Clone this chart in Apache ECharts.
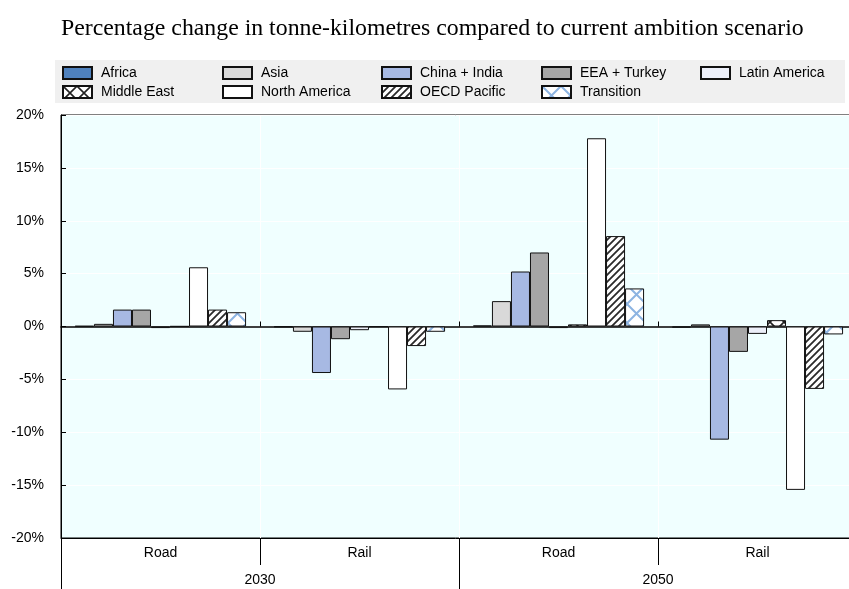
<!DOCTYPE html>
<html>
<head>
<meta charset="utf-8">
<script src="https://cdn.jsdelivr.net/npm/echarts@6/dist/echarts.min.js"></script>
<style>
html,body{margin:0;padding:0;background:#fff;}
#chart{width:849px;height:589px;}
</style>
</head>
<body>
<div id="chart"></div>
<script>
// ---- data ----
const titleText = 'Percentage change in tonne-kilometres compared to current ambition scenario';
const modes = ['Road', 'Rail', 'Road', 'Rail'];
const years = ['2030', '2050'];
const yTicks = { min: -20, max: 20, interval: 5 };
const seriesNames = ['Africa', 'Asia', 'China + India', 'EEA + Turkey', 'Latin America',
                     'Middle East', 'North America', 'OECD Pacific', 'Transition'];
// order: 2030 Road, 2030 Rail, 2050 Road, 2050 Rail (values in %)
const africa       = [0.05, -0.05, 0.1, -0.1];
const asia         = [0.25, -0.5, 2.4, 0.2];
const chinaIndia   = [1.6, -4.4, 5.2, -10.7];
const eeaTurkey    = [1.6, -1.2, 7.0, -2.4];
const latinAmerica = [-0.15, -0.35, -0.15, -0.7];
const middleEast   = [0.02, 0.0, 0.2, 0.6];
const northAmerica = [5.6, -5.95, 17.8, -15.45];
const oecdPacific  = [1.6, -1.85, 8.55, -5.9];
const transition   = [1.35, -0.5, 3.6, -0.75];
const seriesData = [africa, asia, chinaIndia, eeaTurkey, latinAmerica, middleEast, northAmerica, oecdPacific, transition];

// ---- styles ----
function makePattern(size, draw) {
  const c = document.createElement('canvas');
  c.width = size; c.height = size;
  const ctx = c.getContext('2d');
  ctx.fillStyle = '#ffffff';
  ctx.fillRect(0, 0, size, size);
  draw(ctx, size);
  return { image: c, repeat: 'repeat' };
}
const stripePattern = makePattern(7, (ctx, s) => {
  ctx.strokeStyle = '#2a2a2a'; ctx.lineWidth = 1.8;
  ctx.beginPath();
  ctx.moveTo(-1, s + 1); ctx.lineTo(s + 1, -1);
  ctx.moveTo(-1, 1); ctx.lineTo(1, -1);
  ctx.moveTo(s - 1, s + 1); ctx.lineTo(s + 1, s - 1);
  ctx.stroke();
});
function crossPattern(size, color, width) {
  return makePattern(size, (ctx, s) => {
    ctx.strokeStyle = color; ctx.lineWidth = width;
    ctx.beginPath();
    ctx.moveTo(0, 0); ctx.lineTo(s, s);
    ctx.moveTo(s, 0); ctx.lineTo(0, s);
    ctx.stroke();
  });
}
const colors = ['#4F81BD', '#D9D9D9', '#A7B9E3', '#A6A6A6', '#ECEFF9',
                crossPattern(14, '#222222', 1.6), '#FFFFFF', stripePattern, crossPattern(19, '#8DB4E2', 2)];

const sansFont = '"Liberation Sans Narrow", "Arial Narrow", "Liberation Sans", Arial, sans-serif';

const legendCols = [62, 222, 381, 541, 700];
const legendRows = [66, 85];
const legends = seriesNames.map((n, i) => ({
  data: [{ name: n, icon: 'rect' }],
  left: legendCols[i % 5],
  top: legendRows[Math.floor(i / 5)],
  itemWidth: 29, itemHeight: 12,
  padding: 0,
  selectedMode: false,
  textStyle: { fontFamily: sansFont, fontSize: 14, color: '#000', padding: [0, 0, 0, 4] }
}));

const series = seriesNames.map((n, i) => ({
  name: n,
  type: 'bar',
  xAxisIndex: 0,
  yAxisIndex: 0,
  data: seriesData[i],
  barGap: 0,
  barCategoryGap: '14%',
  itemStyle: { color: colors[i], borderColor: '#111', borderWidth: 1 },
  emphasis: { disabled: true },
  animation: false
}));

const chart = echarts.init(document.getElementById('chart'), null, { renderer: 'canvas' });
chart.setOption({
  animation: false,
  backgroundColor: '#ffffff',
  title: {
    text: titleText,
    left: 61,
    top: 17,
    padding: 0,
    textStyle: { fontFamily: '"Liberation Serif", "Times New Roman", serif', fontSize: 23.8, fontWeight: 'normal', color: '#000' }
  },
  graphic: [{
    type: 'rect', left: 55, top: 60, z: -1,
    shape: { width: 790, height: 43 },
    style: { fill: '#F0F0F0' }
  }],
  legend: legends,
  grid: {
    left: 61, width: 796, top: 115, bottom: 51,
    outerBoundsMode: 'none', containLabel: false,
    show: true, backgroundColor: '#F0FFFF', borderColor: '#000', borderWidth: 1
  },
  xAxis: [
    {
      type: 'category', data: modes, position: 'bottom',
      axisLine: { onZero: false, lineStyle: { color: '#000', width: 1 } },
      axisTick: { show: true, interval: 0, length: 27, lineStyle: { color: '#000' } },
      axisLabel: { interval: 0, margin: 8, fontFamily: sansFont, fontSize: 14, color: '#000' },
      splitLine: { show: true, interval: 0, lineStyle: { color: '#ffffff', width: 1 } }
    },
    {
      type: 'category', data: years, position: 'bottom',
      axisLine: { show: false, onZero: false },
      axisTick: { show: true, interval: 0, length: 51, lineStyle: { color: '#000' } },
      axisLabel: { interval: 0, margin: 35, fontFamily: sansFont, fontSize: 14, color: '#000' },
      splitLine: { show: false }
    },
    {
      type: 'category', data: modes, position: 'bottom',
      axisLine: { onZero: true, lineStyle: { color: '#000', width: 1.5 } },
      axisTick: { show: true, inside: true, interval: 0, length: 5, lineStyle: { color: '#000' } },
      axisLabel: { show: false },
      splitLine: { show: false }
    }
  ],
  yAxis: {
    type: 'value', min: yTicks.min, max: yTicks.max, interval: yTicks.interval,
    axisLine: { show: true, lineStyle: { color: '#000', width: 1 } },
    axisTick: { show: true, inside: true, length: 5, lineStyle: { color: '#000' } },
    axisLabel: { formatter: '{value}%', margin: 17, fontFamily: sansFont, fontSize: 14, color: '#000' },
    splitLine: { show: true, lineStyle: { color: '#ffffff', width: 1 } }
  },
  series: series
});
</script>
</body>
</html>
